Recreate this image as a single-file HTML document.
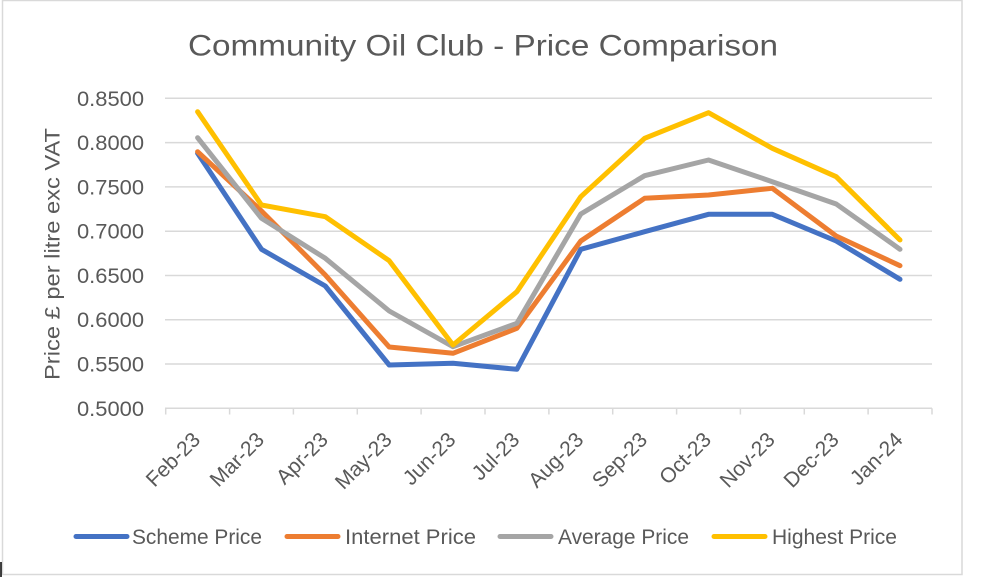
<!DOCTYPE html>
<html><head><meta charset="utf-8"><style>
html,body{margin:0;padding:0;background:#fff;}
svg{display:block;}
text{font-family:"Liberation Sans",Arial,sans-serif;fill:#595959;}
</style></head><body>
<svg width="984" height="577" viewBox="0 0 984 577" xmlns="http://www.w3.org/2000/svg">
<rect x="0" y="0" width="984" height="577" fill="#fff"/>
<rect x="2.5" y="0.5" width="959.5" height="574" fill="none" stroke="#d9d9d9" stroke-width="1.5"/>
<line x1="1" y1="562" x2="1" y2="577" stroke="#000" stroke-width="1.5"/>
<text x="188" y="55.5" font-size="30" textLength="590" lengthAdjust="spacingAndGlyphs">Community Oil Club - Price Comparison</text>
<g stroke="#d9d9d9" stroke-width="1.5">
<line x1="165" y1="98.3" x2="932" y2="98.3"/>
<line x1="165" y1="142.6" x2="932" y2="142.6"/>
<line x1="165" y1="186.9" x2="932" y2="186.9"/>
<line x1="165" y1="231.2" x2="932" y2="231.2"/>
<line x1="165" y1="275.5" x2="932" y2="275.5"/>
<line x1="165" y1="319.7" x2="932" y2="319.7"/>
<line x1="165" y1="364" x2="932" y2="364"/>
<line x1="165" y1="408.3" x2="932" y2="408.3"/>
<line x1="165.7" y1="408.3" x2="165.7" y2="414.5"/>
<line x1="229.6" y1="408.3" x2="229.6" y2="414.5"/>
<line x1="293.4" y1="408.3" x2="293.4" y2="414.5"/>
<line x1="357.3" y1="408.3" x2="357.3" y2="414.5"/>
<line x1="421.1" y1="408.3" x2="421.1" y2="414.5"/>
<line x1="485" y1="408.3" x2="485" y2="414.5"/>
<line x1="548.9" y1="408.3" x2="548.9" y2="414.5"/>
<line x1="612.7" y1="408.3" x2="612.7" y2="414.5"/>
<line x1="676.6" y1="408.3" x2="676.6" y2="414.5"/>
<line x1="740.4" y1="408.3" x2="740.4" y2="414.5"/>
<line x1="804.3" y1="408.3" x2="804.3" y2="414.5"/>
<line x1="868.1" y1="408.3" x2="868.1" y2="414.5"/>
<line x1="932" y1="408.3" x2="932" y2="414.5"/>
</g>
<g font-size="21" text-anchor="end">
<text x="144" y="105.8" textLength="67" lengthAdjust="spacingAndGlyphs">0.8500</text>
<text x="144" y="150.1" textLength="67" lengthAdjust="spacingAndGlyphs">0.8000</text>
<text x="144" y="194.4" textLength="67" lengthAdjust="spacingAndGlyphs">0.7500</text>
<text x="144" y="238.7" textLength="67" lengthAdjust="spacingAndGlyphs">0.7000</text>
<text x="144" y="283" textLength="67" lengthAdjust="spacingAndGlyphs">0.6500</text>
<text x="144" y="327.2" textLength="67" lengthAdjust="spacingAndGlyphs">0.6000</text>
<text x="144" y="371.5" textLength="67" lengthAdjust="spacingAndGlyphs">0.5500</text>
<text x="144" y="415.8" textLength="67" lengthAdjust="spacingAndGlyphs">0.5000</text>
</g>
<text transform="translate(59.5,254) rotate(-90)" font-size="21" text-anchor="middle" textLength="252" lengthAdjust="spacingAndGlyphs">Price £ per litre exc VAT</text>
<g font-size="21" text-anchor="end">
<text transform="translate(201.5,441) rotate(-45)">Feb-23</text>
<text transform="translate(265.4,441) rotate(-45)">Mar-23</text>
<text transform="translate(329.2,441) rotate(-45)">Apr-23</text>
<text transform="translate(393.1,441) rotate(-45)">May-23</text>
<text transform="translate(456.9,441) rotate(-45)">Jun-23</text>
<text transform="translate(520.8,441) rotate(-45)">Jul-23</text>
<text transform="translate(584.7,441) rotate(-45)">Aug-23</text>
<text transform="translate(648.5,441) rotate(-45)">Sep-23</text>
<text transform="translate(712.4,441) rotate(-45)">Oct-23</text>
<text transform="translate(776.2,441) rotate(-45)">Nov-23</text>
<text transform="translate(840.1,441) rotate(-45)">Dec-23</text>
<text transform="translate(904,441) rotate(-45)">Jan-24</text>
</g>
<g fill="none" stroke-width="5" stroke-linejoin="round" stroke-linecap="round">
<polyline stroke="#4472C4" points="197.6,153.3 261.5,249.3 325.3,286 389.2,365 453,363.3 516.9,369.3 580.8,249.3 644.6,231.7 708.5,214.3 772.3,214.3 836.2,241 900,279.3"/>
<polyline stroke="#ED7D31" points="197.6,151.7 261.5,211 325.3,275 389.2,347 453,353.3 516.9,328.3 580.8,241 644.6,198.3 708.5,195 772.3,188.3 836.2,236 900,265.7"/>
<polyline stroke="#A5A5A5" points="197.6,137.7 261.5,218.3 325.3,258.3 389.2,311 453,346.7 516.9,323.3 580.8,214 644.6,175.7 708.5,160 772.3,181.7 836.2,204 900,249.3"/>
<polyline stroke="#FFC000" points="197.6,111.7 261.5,205 325.3,216.7 389.2,260.7 453,345 516.9,291.7 580.8,196.7 644.6,138.3 708.5,112.7 772.3,148.3 836.2,176.7 900,240"/>
</g>
<g stroke-width="5" stroke-linecap="round">
<line x1="76" y1="536.5" x2="127" y2="536.5" stroke="#4472C4"/>
<line x1="287" y1="536.5" x2="338" y2="536.5" stroke="#ED7D31"/>
<line x1="500" y1="536.5" x2="551" y2="536.5" stroke="#A5A5A5"/>
<line x1="714" y1="536.5" x2="765" y2="536.5" stroke="#FFC000"/>
</g>
<g font-size="21.5">
<text x="132" y="543.8" textLength="130" lengthAdjust="spacingAndGlyphs">Scheme Price</text>
<text x="345" y="543.8" textLength="131" lengthAdjust="spacingAndGlyphs">Internet Price</text>
<text x="558" y="543.8" textLength="131" lengthAdjust="spacingAndGlyphs">Average Price</text>
<text x="772" y="543.8" textLength="125" lengthAdjust="spacingAndGlyphs">Highest Price</text>
</g>
</svg>
</body></html>
